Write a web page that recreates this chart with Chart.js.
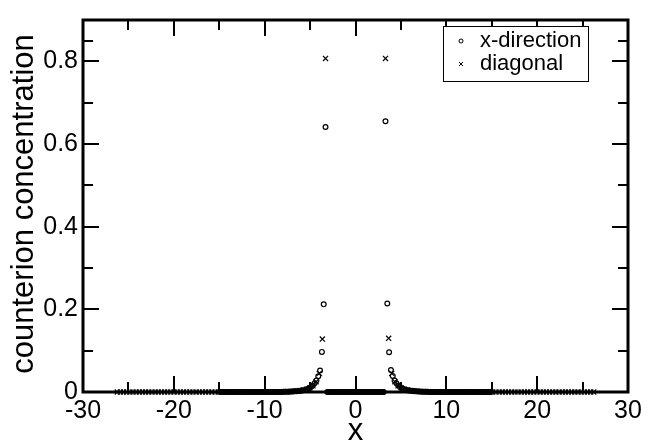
<!DOCTYPE html>
<html>
<head>
<meta charset="utf-8">
<script src="https://cdn.jsdelivr.net/npm/chart.js@4/dist/chart.umd.min.js"></script>
<style>
  html, body { margin: 0; padding: 0; background: #fff; }
  #c { display: block; }
</style>
</head>
<body>
<canvas id="c" width="658" height="443"></canvas>
<script>
// x-direction profile
const xdirX = [
  -14.9, -14.7, -14.5, -14.3, -14.1, -13.9, -13.7, -13.5, -13.3, -13.1,
  -12.9, -12.7, -12.5, -12.3, -12.1, -11.9, -11.7, -11.5, -11.3, -11.1,
  -10.9, -10.7, -10.5, -10.3, -10.1, -9.9, -9.7, -9.5, -9.3, -9.1,
  -8.9, -8.7, -8.5, -8.3, -8.1, -7.9, -7.7, -7.5, -7.3, -7.1,
  -6.9, -6.7, -6.5, -6.3, -6.1, -5.9, -5.7, -5.5, -5.3, -5.1,
  -4.9, -4.7, -4.5, -4.3, -4.1, -3.9, -3.7, -3.5, -3.3, -3.1,
  -2.9, -2.7, -2.5, -2.3, -2.1, -1.9, -1.7, -1.5, -1.3, -1.1,
  -0.9, -0.7, -0.5, -0.3, -0.1,
  0.1, 0.3, 0.5, 0.7, 0.9,
  1.1, 1.3, 1.5, 1.7, 1.9, 2.1, 2.3, 2.5, 2.7, 2.9,
  3.1, 3.3, 3.5, 3.7, 3.9, 4.1, 4.3, 4.5, 4.7, 4.9,
  5.1, 5.3, 5.5, 5.7, 5.9, 6.1, 6.3, 6.5, 6.7, 6.9,
  7.1, 7.3, 7.5, 7.7, 7.9, 8.1, 8.3, 8.5, 8.7, 8.9,
  9.1, 9.3, 9.5, 9.7, 9.9, 10.1, 10.3, 10.5, 10.7, 10.9,
  11.1, 11.3, 11.5, 11.7, 11.9, 12.1, 12.3, 12.5, 12.7, 12.9,
  13.1, 13.3, 13.5, 13.7, 13.9, 14.1, 14.3, 14.5, 14.7, 14.9
];
const xdirY = [
  0, 0, 0, 0, 0, 0, 0, 0, 0, 0,
  0, 0, 0, 0, 0, 0, 0, 0, 0, 0,
  0, 0, 0, 0, 0, 0, 0, 0, 0, 0,
  0, 0.0001, 0.0002, 0.0002, 0.0003, 0.0004, 0.0005, 0.0006, 0.0008, 0.001,
  0.0013, 0.0016, 0.002, 0.0025, 0.003, 0.0035, 0.0045, 0.0055, 0.007, 0.009,
  0.012, 0.016, 0.021, 0.028, 0.038, 0.052, 0.097, 0.212, 0.641, 0,
  0, 0, 0, 0, 0, 0, 0, 0, 0, 0,
  0, 0, 0, 0, 0,
  0, 0, 0, 0, 0,
  0, 0, 0, 0, 0, 0, 0, 0, 0, 0,
  0, 0.655, 0.214, 0.096, 0.053, 0.039, 0.028, 0.021, 0.016, 0.012,
  0.009, 0.007, 0.0055, 0.0045, 0.0035, 0.003, 0.0025, 0.002, 0.0016, 0.0013,
  0.001, 0.0008, 0.0006, 0.0005, 0.0004, 0.0003, 0.0002, 0.0002, 0.0001, 0,
  0, 0, 0, 0, 0, 0, 0, 0, 0, 0,
  0, 0, 0, 0, 0, 0, 0, 0, 0, 0,
  0, 0, 0, 0, 0, 0, 0, 0, 0, 0
];

// diagonal profile
const diagX = [
  -26.23, -25.89, -25.54, -25.19, -24.84, -24.50, -24.15,
  -23.80, -23.45, -23.11, -22.76, -22.41, -22.06, -21.72, -21.37, -21.02, -20.67,
  -20.33, -19.98, -19.63, -19.28, -18.94, -18.59, -18.24, -17.89, -17.55, -17.20,
  -16.85, -16.50, -16.16, -15.81, -15.46, -15.11, -14.77, -14.42, -14.07, -13.72,
  -13.38, -13.03, -12.68, -12.33, -11.99, -11.64, -11.29, -10.94, -10.60, -10.25,
  -9.90, -9.55, -9.21, -8.86, -8.51, -8.16, -7.82, -7.47, -7.12, -6.77,
  -6.43, -6.08, -5.73, -5.38, -5.04, -4.69, -4.34, -3.99, -3.65, -3.30,
  -2.95, -2.61, -2.26, -1.91, -1.56, -1.21, -0.87, -0.52, -0.17,
  0.17, 0.52, 0.87, 1.21, 1.56, 1.91, 2.26, 2.61, 2.95,
  3.30, 3.65, 3.99, 4.34, 4.69, 5.04, 5.38, 5.73, 6.08, 6.43,
  6.77, 7.12, 7.47, 7.82, 8.16, 8.51, 8.86, 9.21, 9.55, 9.90,
  10.25, 10.60, 10.94, 11.29, 11.64, 11.99, 12.33, 12.68, 13.03, 13.38,
  13.72, 14.07, 14.42, 14.77, 15.11, 15.46, 15.81, 16.16, 16.50, 16.85,
  17.20, 17.55, 17.89, 18.24, 18.59, 18.94, 19.28, 19.63, 19.98, 20.33,
  20.67, 21.02, 21.37, 21.72, 22.06, 22.41, 22.76, 23.11, 23.45, 23.80,
  24.15, 24.50, 24.84, 25.19, 25.54, 25.89, 26.23
];
const diagY = [
  0, 0, 0, 0, 0, 0, 0,
  0, 0, 0, 0, 0, 0, 0, 0, 0, 0,
  0, 0, 0, 0, 0, 0, 0, 0, 0, 0,
  0, 0, 0, 0, 0, 0, 0, 0, 0, 0,
  0, 0, 0, 0, 0, 0, 0, 0, 0, 0,
  0, 0, 0.0001, 0.0002, 0.0003, 0.0005, 0.0007, 0.001, 0.0013, 0.0018,
  0.0025, 0.0035, 0.005, 0.007, 0.01, 0.015, 0.025, 0.045, 0.128, 0.807,
  0, 0, 0, 0, 0, 0, 0, 0, 0,
  0, 0, 0, 0, 0, 0, 0, 0, 0,
  0.807, 0.130, 0.045, 0.025, 0.015, 0.01, 0.007, 0.005, 0.0035, 0.0025,
  0.0018, 0.0013, 0.001, 0.0007, 0.0005, 0.0003, 0.0002, 0.0001, 0, 0,
  0, 0, 0, 0, 0, 0, 0, 0, 0, 0,
  0, 0, 0, 0, 0, 0, 0, 0, 0, 0,
  0, 0, 0, 0, 0, 0, 0, 0, 0, 0,
  0, 0, 0, 0, 0, 0, 0, 0, 0, 0,
  0, 0, 0, 0, 0, 0, 0
];

const xTicks = [-30, -20, -10, 0, 10, 20, 30];
const yTicks = [0, 0.2, 0.4, 0.6, 0.8];
const yTickLabels = ["0", "0.2", "0.4", "0.6", "0.8"];

const FONT = "'Liberation Sans', Arial, sans-serif";

function mid(arr) {
  const out = [];
  for (let i = 0; i < arr.length - 1; i++) out.push((arr[i] + arr[i + 1]) / 2);
  return out;
}

// frame, inward ticks on all four sides, titles and the legend box
const decor = {
  id: "decor",
  afterDatasetsDraw(chart) {
    const { ctx, chartArea: a, scales } = chart;
    const sx = scales.x, sy = scales.y;
    ctx.save();
    ctx.strokeStyle = "#000";
    ctx.lineCap = "butt";

    ctx.lineWidth = 2;
    const xt = (v, len) => {
      const p = Math.round(sx.getPixelForValue(v));
      ctx.beginPath();
      ctx.moveTo(p, a.bottom); ctx.lineTo(p, a.bottom - len);
      ctx.moveTo(p, a.top); ctx.lineTo(p, a.top + len);
      ctx.stroke();
    };
    const yt = (v, len) => {
      const p = Math.round(sy.getPixelForValue(v));
      ctx.beginPath();
      ctx.moveTo(a.left, p); ctx.lineTo(a.left + len, p);
      ctx.moveTo(a.right, p); ctx.lineTo(a.right - len, p);
      ctx.stroke();
    };
    xTicks.forEach(v => xt(v, 16));
    mid(xTicks).forEach(v => xt(v, 10));
    yTicks.forEach(v => yt(v, 16));
    mid(yTicks.concat([0.9])).forEach(v => yt(v, 10));

    ctx.lineWidth = 3;
    ctx.strokeRect(a.left, a.top, a.right - a.left, a.bottom - a.top);

    // axis titles
    ctx.fillStyle = "#000";
    ctx.font = "31px " + FONT;
    ctx.textAlign = "center";
    ctx.textBaseline = "middle";
    ctx.fillText("x", (a.left + a.right) / 2, 431);
    ctx.save();
    ctx.translate(24, (a.top + a.bottom) / 2 - 2);
    ctx.rotate(-Math.PI / 2);
    ctx.fillText("counterion concentration", 0, 0);
    ctx.restore();

    // legend
    ctx.lineWidth = 1;
    ctx.fillStyle = "#fff";
    ctx.fillRect(443.5, 26.5, 145, 55);
    ctx.strokeRect(443.5, 26.5, 145, 55);
    ctx.beginPath();
    ctx.arc(461, 41, 2, 0, Math.PI * 2);
    ctx.stroke();
    ctx.beginPath();
    ctx.moveTo(459, 62); ctx.lineTo(463, 66);
    ctx.moveTo(463, 62); ctx.lineTo(459, 66);
    ctx.stroke();
    ctx.fillStyle = "#000";
    ctx.font = "22px " + FONT;
    ctx.textAlign = "left";
    ctx.fillText(chart.data.datasets[0].label, 480, 41);
    ctx.fillText(chart.data.datasets[1].label, 480, 64);
    ctx.restore();
  }
};

new Chart(document.getElementById("c"), {
  type: "scatter",
  data: {
    datasets: [
      {
        label: "x-direction",
        data: xdirX.map((x, i) => ({ x: x, y: xdirY[i] })),
        pointStyle: "circle",
        pointRadius: 2.4,
        borderWidth: 1.2,
        borderColor: "#000",
        backgroundColor: "rgba(0,0,0,0)",
        showLine: false,
        clip: false
      },
      {
        label: "diagonal",
        data: diagX.map((x, i) => ({ x: x, y: diagY[i] })),
        pointStyle: "crossRot",
        pointRadius: 3.6,
        borderWidth: 1.2,
        borderColor: "#000",
        backgroundColor: "#000",
        showLine: false,
        clip: false
      }
    ]
  },
  options: {
    responsive: false,
    animation: false,
    events: [],
    layout: { padding: { top: 11, right: 30, left: 0, bottom: 0 } },
    plugins: { legend: { display: false }, tooltip: { enabled: false } },
    scales: {
      x: {
        type: "linear",
        min: -30,
        max: 30,
        afterBuildTicks: s => { s.ticks = xTicks.map(v => ({ value: v })); },
        afterFit: s => { s.height = 51; },
        grid: { display: false, drawTicks: false },
        border: { display: false },
        ticks: {
          padding: 4,
          color: "#000",
          font: { family: FONT, size: 25 },
          maxRotation: 0,
          autoSkip: false,
          callback: v => String(v)
        }
      },
      y: {
        type: "linear",
        min: 0,
        max: 0.9,
        afterBuildTicks: s => { s.ticks = yTicks.map(v => ({ value: v })); },
        afterFit: s => { s.width = 83; },
        grid: { display: false, drawTicks: false },
        border: { display: false },
        ticks: {
          padding: 5,
          color: "#000",
          font: { family: FONT, size: 25 },
          autoSkip: false,
          callback: (v, i) => yTickLabels[i]
        }
      }
    }
  },
  plugins: [decor]
});
</script>
</body>
</html>
